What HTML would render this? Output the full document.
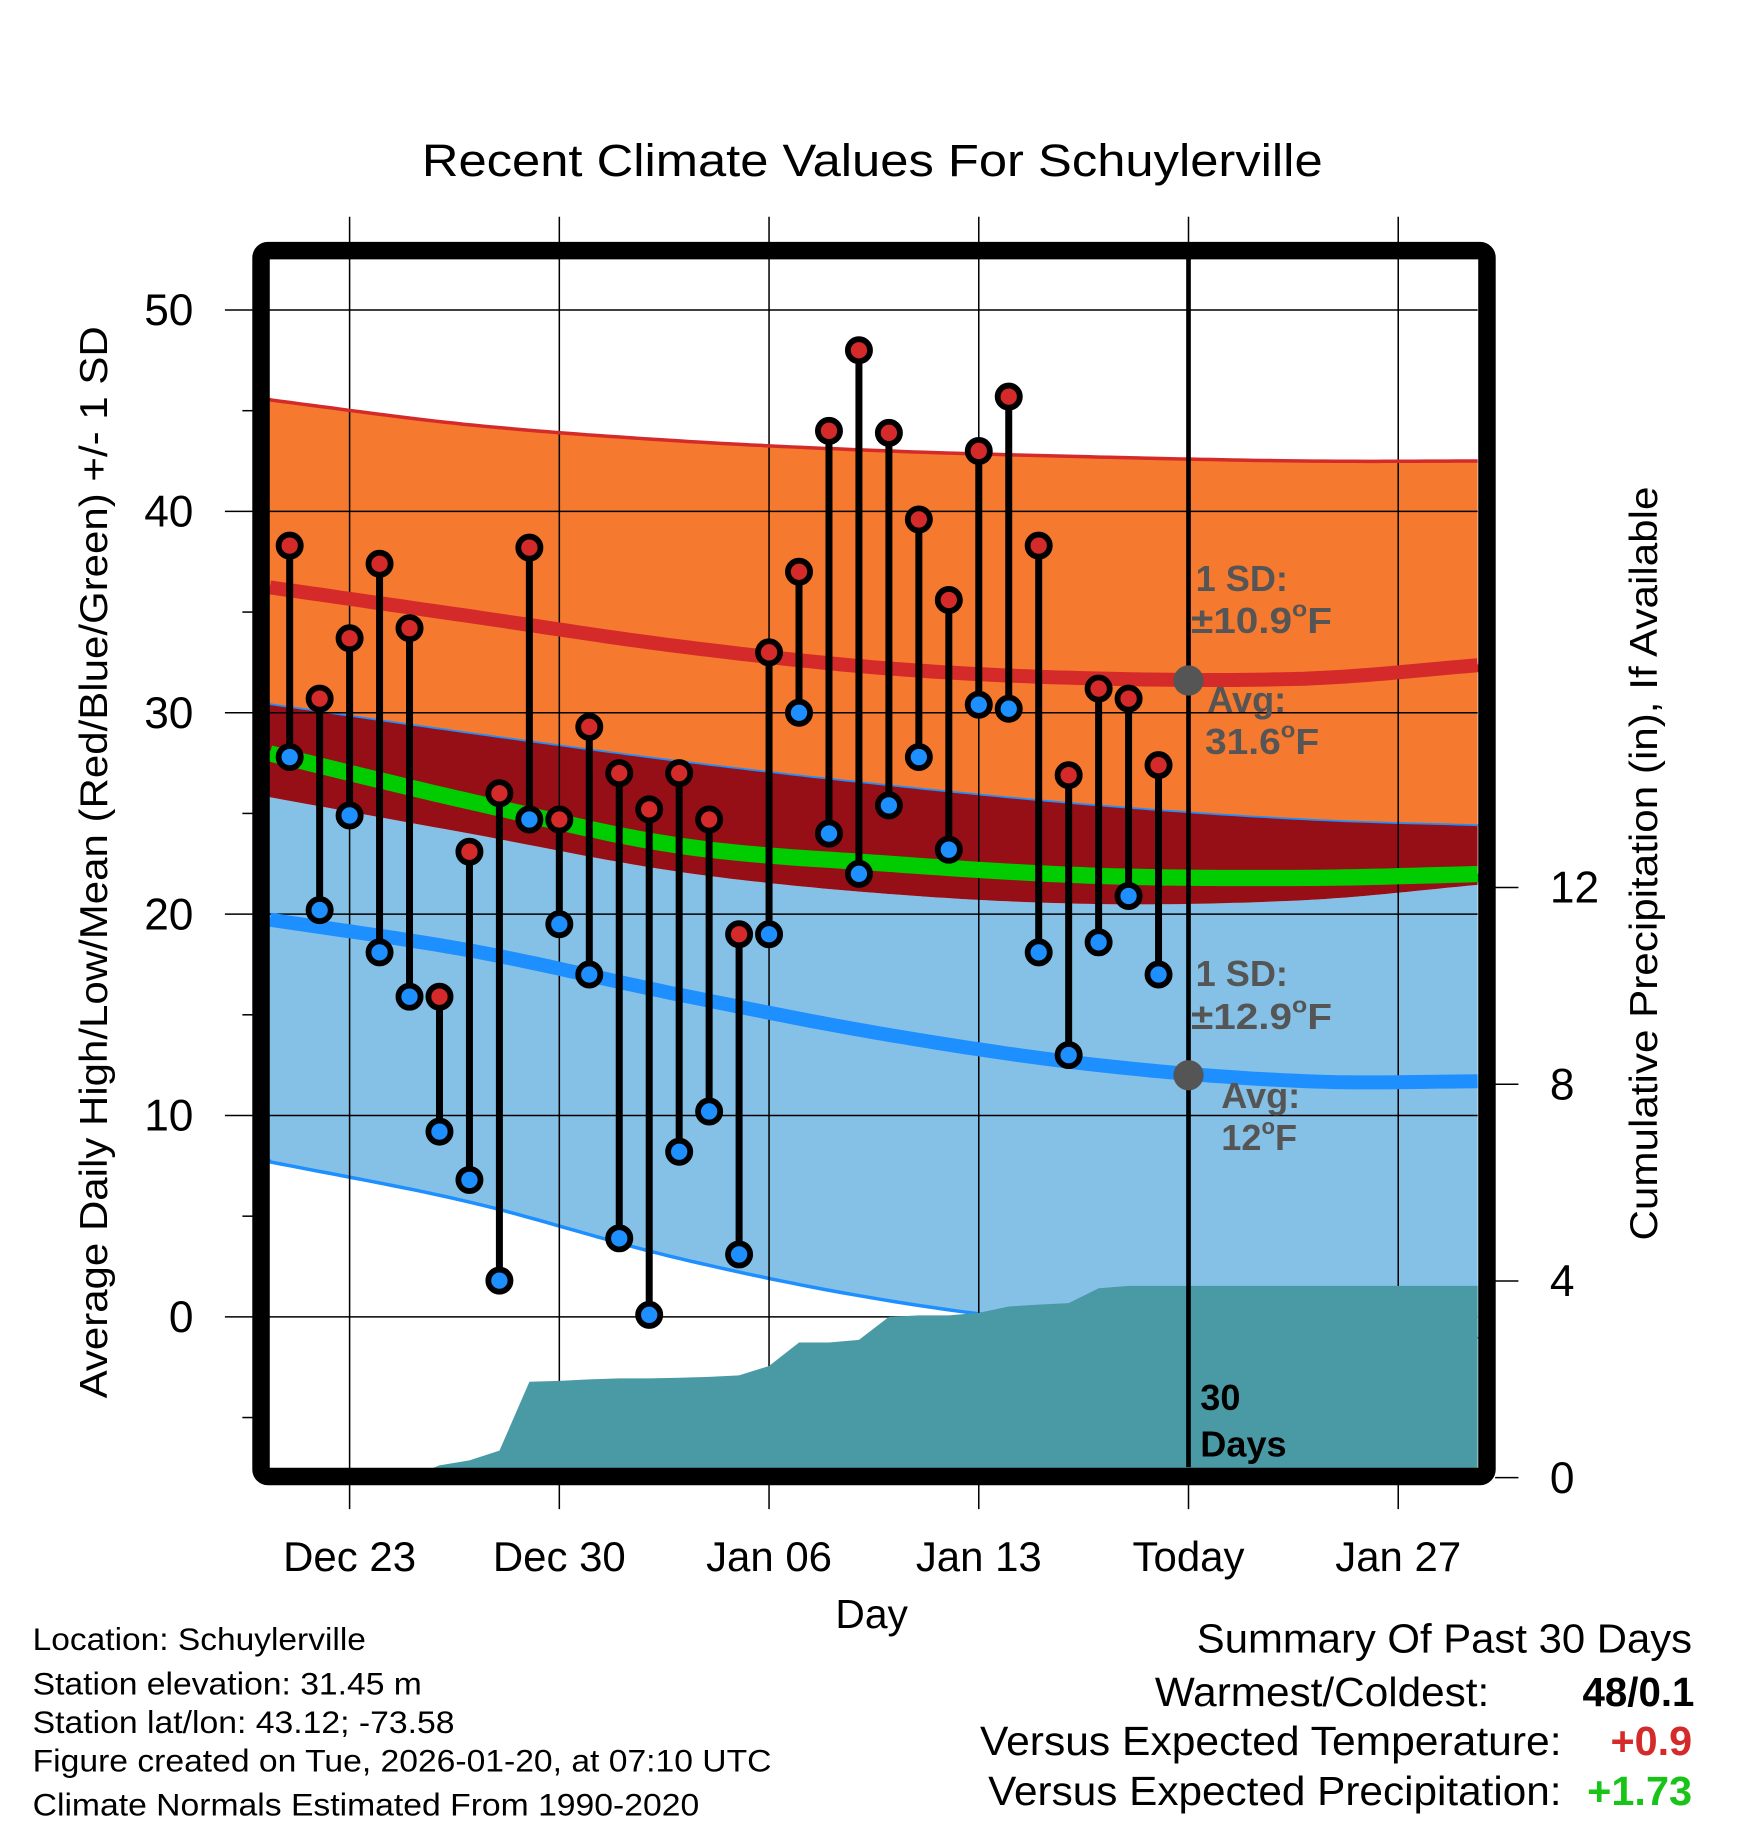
<!DOCTYPE html>
<html><head><meta charset="utf-8"><style>
html,body{margin:0;padding:0;background:#fff}
svg{display:block}
text{font-family:"Liberation Sans",Arial,sans-serif}
</style></head><body>
<svg id="chart" width="1748" height="1828" viewBox="0 0 1500 1568.6" xmlns="http://www.w3.org/2000/svg">
<text x="362" y="151" font-size="39" textLength="773" lengthAdjust="spacingAndGlyphs">Recent Climate Values For Schuylerville</text>
<g id="fills"></g>
<g id="under"></g>
<g id="grid"></g>
<g id="precip"></g>
<g id="lines"></g>
<g id="marks"></g>
<g id="axes"></g>
<rect x="224" y="215" width="1052" height="1052" rx="6" fill="none" stroke="#000" stroke-width="15"/>
<g font-weight="bold" font-size="31" fill="#555">
<text x="1026" y="507">1 SD:</text>
<text x="1022" y="543" textLength="121" lengthAdjust="spacingAndGlyphs">±10.9<tspan font-size="19" dy="-14">o</tspan><tspan dy="14">F</tspan></text>
<text x="1036" y="611">Avg:</text>
<text x="1034" y="647" textLength="98" lengthAdjust="spacingAndGlyphs">31.6<tspan font-size="19" dy="-14">o</tspan><tspan dy="14">F</tspan></text>
<text x="1026" y="846">1 SD:</text>
<text x="1022" y="883" textLength="121" lengthAdjust="spacingAndGlyphs">±12.9<tspan font-size="19" dy="-14">o</tspan><tspan dy="14">F</tspan></text>
<text x="1048" y="951">Avg:</text>
<text x="1048" y="987">12<tspan font-size="19" dy="-14">o</tspan><tspan dy="14">F</tspan></text>
<text x="1030" y="1210" fill="#000">30</text>
<text x="1030" y="1250" fill="#000">Days</text>
</g>
<text transform="translate(92,740) rotate(-90)" font-size="33" text-anchor="middle" textLength="920" lengthAdjust="spacingAndGlyphs">Average Daily High/Low/Mean (Red/Blue/Green) +/- 1 SD</text>
<text transform="translate(1422,741) rotate(-90)" font-size="33" text-anchor="middle" textLength="647" lengthAdjust="spacingAndGlyphs">Cumulative Precipitation (in), If Available</text>
<text x="748" y="1397" font-size="35" text-anchor="middle">Day</text>
<g font-size="27" lengthAdjust="spacingAndGlyphs">
<text x="28" y="1416" textLength="286" lengthAdjust="spacingAndGlyphs">Location: Schuylerville</text>
<text x="28" y="1454" textLength="334" lengthAdjust="spacingAndGlyphs">Station elevation: 31.45 m</text>
<text x="28" y="1487" textLength="362" lengthAdjust="spacingAndGlyphs">Station lat/lon: 43.12; -73.58</text>
<text x="28" y="1520" textLength="634" lengthAdjust="spacingAndGlyphs">Figure created on Tue, 2026-01-20, at 07:10 UTC</text>
<text x="28" y="1558" textLength="572" lengthAdjust="spacingAndGlyphs">Climate Normals Estimated From 1990-2020</text>
</g>
<g font-size="35">
<text x="1027" y="1418" textLength="425" lengthAdjust="spacingAndGlyphs">Summary Of Past 30 Days</text>
<text x="991" y="1464" textLength="287" lengthAdjust="spacingAndGlyphs">Warmest/Coldest:</text>
<text x="1358" y="1464" font-weight="bold" textLength="96" lengthAdjust="spacingAndGlyphs">48/0.1</text>
<text x="841" y="1506" textLength="499" lengthAdjust="spacingAndGlyphs">Versus Expected Temperature:</text>
<text x="1382" y="1506" font-weight="bold" fill="#d42a2a" textLength="70" lengthAdjust="spacingAndGlyphs">+0.9</text>
<text x="848" y="1549" textLength="492" lengthAdjust="spacingAndGlyphs">Versus Expected Precipitation:</text>
<text x="1362" y="1549" font-weight="bold" fill="#18c418" textLength="90" lengthAdjust="spacingAndGlyphs">+1.73</text>
</g>
</svg>
<script>
// data: day index 0 = Dec 23
const obsDays = [-2,-1,0,1,2,3,4,5,6,7,8,9,10,11,12,13,14,15,16,17,18,19,20,21,22,23,24,25,26,27];
const highs = [38.3,30.7,33.7,37.4,34.2,15.9,23.1,26.0,38.2,24.7,29.3,27.0,25.2,27.0,24.7,19.0,33.0,37.0,44.0,48.0,43.9,39.6,35.6,43.0,45.7,38.3,26.9,31.2,30.7,27.4];
const lows = [27.8,20.2,24.9,18.1,15.9,9.2,6.8,1.8,24.7,19.5,17.0,3.9,0.1,8.2,10.2,3.1,19.0,30.0,24.0,22.0,25.4,27.8,23.2,30.4,30.2,18.1,13.0,18.6,20.9,17.0];
const precipCum = [0,0,0,0,0,0.25,0.35,0.55,1.95,1.97,2.0,2.02,2.02,2.03,2.05,2.08,2.27,2.75,2.75,2.8,3.27,3.3,3.3,3.35,3.48,3.52,3.55,3.85,3.9,3.9];
const normDays = [-3,4,11,18,25,32,38];
const highPlus = [45.6,44.3,43.5,43.0,42.7,42.5,42.5];
const highMean = [36.3,34.8,33.3,32.2,31.7,31.7,32.4];
const highMinus = [30.5,29.0,27.6,26.4,25.4,24.7,24.4];
const meanMean = [28.1,25.6,23.4,22.5,21.9,21.8,22.0];
const lowPlus = [25.9,24.0,22.1,21.0,20.5,20.7,21.5];
const lowMean = [19.8,18.2,16.0,14.0,12.5,11.7,11.7];
const lowMinus = [7.8,5.7,2.9,0.8,-0.5,-1.1,-1.0];
const xTickDays = [0,7,14,21,28,35];
const xTickLabels = ["Dec 23","Dec 30","Jan 06","Jan 13","Today","Jan 27"];
const yTicks = [0,10,20,30,40,50];
const y2Ticks = [0,4,8,12];

const NS="http://www.w3.org/2000/svg";
const X=d=>300+d*25.71;
const Y=v=>1130-v*17.28;
const Y2=p=>1268-p*42.2;
const L=231,R=1268,T=222,B=1259;
function mk(tag,parent,attrs){const e=document.createElementNS(NS,tag);for(const k in attrs)e.setAttribute(k,attrs[k]);document.getElementById(parent).appendChild(e);return e;}
function dense(arr){const pts=[];const n=normDays.length;for(let i=0;i<=120;i++){const d=normDays[0]+(normDays[n-1]-normDays[0])*i/120;let j=0;while(j<n-2&&d>normDays[j+1])j++;const t=(d-normDays[j])/(normDays[j+1]-normDays[j]);const p0=j>0?arr[j-1]:2*arr[0]-arr[1],p1=arr[j],p2=arr[j+1],p3=j+2<n?arr[j+2]:2*arr[n-1]-arr[n-2];const v=0.5*((2*p1)+(-p0+p2)*t+(2*p0-5*p1+4*p2-p3)*t*t+(-p0+3*p1-3*p2+p3)*t*t*t);const x=Math.max(L,Math.min(R,X(d)));pts.push([x,Y(v)]);}return pts;}
function band(a,b){const p=dense(a),q=dense(b).reverse();return "M"+p.concat(q).map(c=>c[0].toFixed(1)+","+Math.max(T,Math.min(B,c[1])).toFixed(1)).join("L")+"Z";}
function line(a){return "M"+dense(a).map(c=>c[0].toFixed(1)+","+c[1].toFixed(1)).join("L");}
let e;
e=mk("path","fills",{d:band(lowPlus,lowMinus),fill:"#85c1e6"});


e=mk("path","fills",{d:band(highMinus,lowPlus),fill:"#960f17"});


e=mk("path","fills",{d:band(highPlus,highMinus),fill:"#f5792e"});


e=mk("path","under",{d:line(lowMinus),fill:"none",stroke:"#1e8fff","stroke-width":3});


e=mk("path","under",{d:line(highMinus),fill:"none",stroke:"#1e8fff","stroke-width":1.5});


// grid
yTicks.forEach(v=>{e=mk("line","grid",{x1:L,x2:R,y1:Y(v),y2:Y(v),stroke:"#000","stroke-width":1.3});

});
xTickDays.forEach(d=>{e=mk("line","grid",{x1:X(d),x2:X(d),y1:186,y2:1295,stroke:"#000","stroke-width":1.3});

});
// precip
let pd="M"+X(obsDays[0])+","+Y2(0);
obsDays.forEach((d,i)=>{pd+="L"+X(d).toFixed(1)+","+Y2(precipCum[i]).toFixed(1);});
pd+="L"+R+","+Y2(precipCum[precipCum.length-1]).toFixed(1)+"L"+R+","+Y2(0)+"Z";
e=mk("path","precip",{d:pd,fill:"#4a9aa5"});


// lines
e=mk("path","lines",{d:line(highPlus),fill:"none",stroke:"#d42a2a","stroke-width":3});


e=mk("path","lines",{d:line(meanMean),fill:"none",stroke:"#00cc00","stroke-width":14});


e=mk("path","lines",{d:line(highMean),fill:"none",stroke:"#d42a2a","stroke-width":12});


e=mk("path","lines",{d:line(lowMean),fill:"none",stroke:"#1e8fff","stroke-width":12});


e=mk("line","lines",{x1:X(28),x2:X(28),y1:T,y2:B,stroke:"#000","stroke-width":4});


e=mk("circle","lines",{cx:X(28),cy:Y(31.6),r:13,fill:"#555"});


e=mk("circle","lines",{cx:X(28),cy:Y(12),r:13,fill:"#555"});


// observations
obsDays.forEach((d,i)=>{
 e=mk("line","marks",{x1:X(d),x2:X(d),y1:Y(highs[i]),y2:Y(lows[i]),stroke:"#000","stroke-width":6});
 
 
 e=mk("circle","marks",{cx:X(d),cy:Y(highs[i]),r:9.5,fill:"#d42a2a",stroke:"#000","stroke-width":5});
 
 
 e=mk("circle","marks",{cx:X(d),cy:Y(lows[i]),r:9.5,fill:"#1e8fff",stroke:"#000","stroke-width":5});
 
 
});
// axes
yTicks.forEach(v=>{
 e=mk("line","axes",{x1:193,x2:217,y1:Y(v),y2:Y(v),stroke:"#000","stroke-width":1.3});
 
 
 e=mk("text","axes",{x:166,y:Y(v)+13,"font-size":38,"text-anchor":"end"});e.textContent=v;
 
 
});
[-5,5,15,25,35,45].forEach(v=>{e=mk("line","axes",{x1:208,x2:217,y1:Y(v),y2:Y(v),stroke:"#000","stroke-width":1.3});

});
y2Ticks.forEach(p=>{
 e=mk("line","axes",{x1:1283,x2:1303,y1:Y2(p),y2:Y2(p),stroke:"#000","stroke-width":1.3});
 
 
 e=mk("text","axes",{x:1330,y:Y2(p)+13,"font-size":38});e.textContent=p;
 
 
});
xTickDays.forEach((d,i)=>{
 e=mk("text","axes",{x:X(d),y:1348,"font-size":36,"text-anchor":"middle"});e.textContent=xTickLabels[i];
 
 
});
</script>
</body></html>
